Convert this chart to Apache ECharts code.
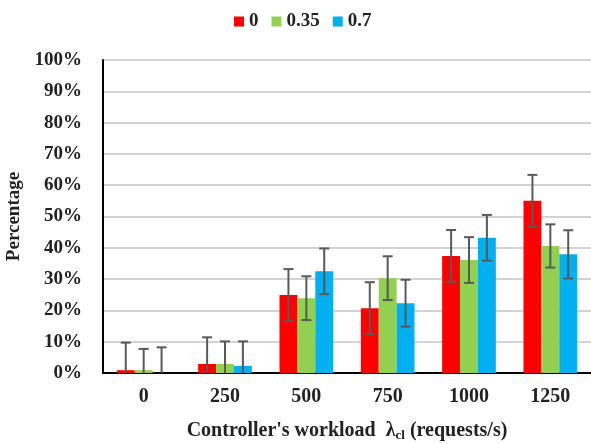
<!DOCTYPE html>
<html>
<head>
<meta charset="utf-8">
<script src="https://cdn.jsdelivr.net/npm/echarts@6/dist/echarts.min.js"></script>
<style>html,body{margin:0;padding:0;background:#fff}#c{width:591px;height:444px}</style>
</head>
<body>
<div id="c"></div>
<script>
var categories = ['0', '250', '500', '750', '1000', '1250'];
var seriesNames = ['0', '0.35', '0.7'];
var red = [0.9, 2.9, 24.9, 20.7, 37.4, 55.0];
var redErr = [8.8, 8.5, 8.3, 8.3, 8.3, 8.3];
var green = [0.9, 2.9, 23.9, 30.3, 36.1, 40.6];
var greenErr = [6.8, 7.2, 7.0, 7.0, 7.3, 6.9];
var blue = [0, 2.3, 32.5, 22.3, 43.2, 37.9];
var blueErr = [8.2, 7.8, 7.3, 7.5, 7.3, 7.7];
var colors = ['#FF0000', '#92D050', '#00B0F0'];

var values = [red, green, blue];
var errs = [redErr, greenErr, blueErr];
var FONT = '"Liberation Serif", "Times New Roman", serif';
var barFrac = 0.22;

function errSeries(k) {
  var data = values[k].map(function (v, i) { return [i, v, errs[k][i]]; });
  return {
    type: 'custom',
    name: seriesNames[k] + ' err',
    z: 5,
    data: data,
    renderItem: function (params, api) {
      var i = api.value(0), v = api.value(1), e = api.value(2);
      var band = api.size([1, 0])[0];
      var off = band * barFrac * (k - 1);
      var lo = Math.max(0, v - e), hi = v + e;
      var pHi = api.coord([i, hi]);
      var pLo = api.coord([i, lo]);
      var x = pHi[0] + off;
      var cap = 5;
      var st = { stroke: '#595959', lineWidth: 2 };
      var children = [
        { type: 'line', shape: { x1: x, y1: pHi[1], x2: x, y2: pLo[1] }, style: st },
        { type: 'line', shape: { x1: x - cap, y1: pHi[1], x2: x + cap, y2: pHi[1] }, style: st }
      ];
      if (v - e > 0) {
        children.push({ type: 'line', shape: { x1: x - cap, y1: pLo[1], x2: x + cap, y2: pLo[1] }, style: st });
      }
      return { type: 'group', children: children };
    }
  };
}

var series = [];
for (var k = 0; k < 3; k++) {
  series.push({
    type: 'bar',
    name: seriesNames[k],
    data: values[k],
    itemStyle: { color: colors[k] },
    barGap: '0%',
    barCategoryGap: '34%'
  });
}
for (var k2 = 0; k2 < 3; k2++) series.push(errSeries(k2));

var chart = echarts.init(document.getElementById('c'));
chart.setOption({
  animation: false,
  textStyle: { fontFamily: FONT },
  legend: {
    data: seriesNames,
    left: 229,
    top: 7,
    itemWidth: 10,
    itemHeight: 10,
    itemGap: 13,
    icon: 'rect',
    textStyle: { fontFamily: FONT, fontWeight: 'bold', fontSize: 19, color: '#222' }
  },
  grid: { left: 103, right: 0, top: 60, bottom: 71, containLabel: false, outerBoundsMode: 'none' },
  xAxis: {
    type: 'category',
    data: categories,
    axisLine: { lineStyle: { color: '#000', width: 2 } },
    axisTick: { show: false },
    axisLabel: { fontFamily: FONT, fontWeight: 'bold', fontSize: 20, color: '#222', margin: 14 },
    name: "Controller's workload  {l|λ}{s|cl} (requests/s)",
    nameLocation: 'middle',
    nameGap: 46,
    nameTextStyle: {
      fontFamily: FONT, fontWeight: 'bold', fontSize: 20, color: '#222',
      rich: {
        l: { fontFamily: FONT, fontWeight: 'bold', fontSize: 20, color: '#222' },
        s: { fontFamily: FONT, fontWeight: 'bold', fontSize: 13, color: '#222', padding: [10, 0, 0, 0] }
      }
    }
  },
  yAxis: {
    type: 'value',
    min: 0,
    max: 100,
    interval: 10,
    axisLine: { show: true, lineStyle: { color: '#000', width: 2 } },
    axisTick: { show: false },
    splitLine: { lineStyle: { color: '#d3d3d3', width: 2 } },
    axisLabel: { fontFamily: FONT, fontWeight: 'bold', fontSize: 19, color: '#222', margin: 21, formatter: '{value}%' },
    name: 'Percentage',
    nameLocation: 'middle',
    nameGap: 77,
    nameTextStyle: { fontFamily: FONT, fontWeight: 'bold', fontSize: 19, color: '#222' }
  },
  series: series
});
</script>
</body>
</html>
